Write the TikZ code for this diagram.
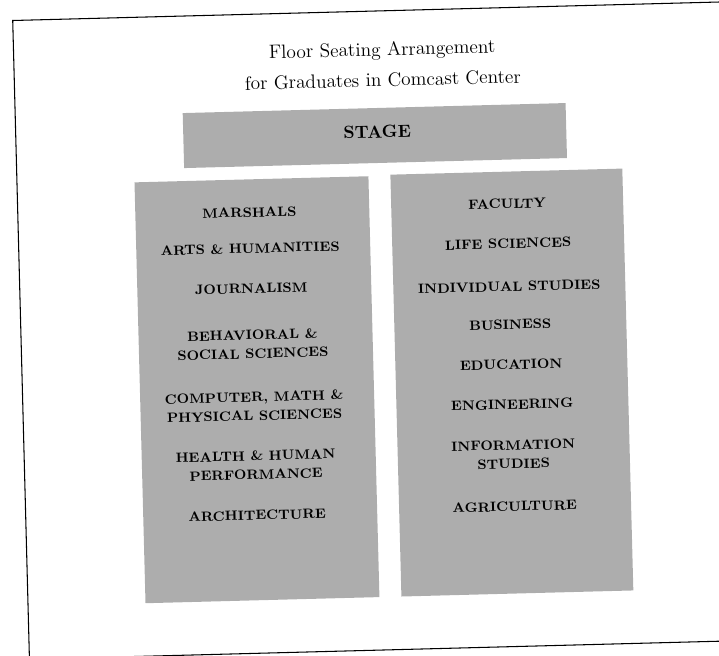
\documentclass[tikz,border=0pt]{standalone}
\usepackage{fontspec}
\usetikzlibrary{calc}

\begin{document}
\begin{tikzpicture}[
    area/.style={fill=black!32, inner sep=0pt},
    lbl/.style={font=\fontsize{7.7}{10.6}\selectfont\bfseries, align=center, inner sep=1pt},
    ttl/.style={font=\fontsize{11}{13}\selectfont, inner sep=1pt}]
\useasboundingbox (0,0) rectangle (14.38,-13.1);
\begin{scope}[rotate around={1.5:(7.6,-7.8)}, transform shape]
\draw[semithick] (14.9,-0.22) -- (0.45,-0.22) -- (0.45,-13.0) -- (14.9,-13.0);
\node[ttl] at (7.82,-1.02) (t1) {Floor Seating Arrangement};
\node[ttl] at ($(t1)+(0,-0.58)$) (t2) {for Graduates in Comcast Center};
\node[area, minimum width=7.66cm, minimum height=1.1cm] at (7.63,-2.71) (stage) {};
\node[font=\fontsize{10}{12}\selectfont\bfseries] at ($(stage)+(0.05,0.07)$) (s) {STAGE};
% left block
\node[area, minimum width=4.68cm, minimum height=8.42cm] at (5.14,-7.73) (lbox) {};
\node[lbl] at ($(lbox.north)+(-0.06,-0.67)$) (l1) {MARSHALS};
\node[lbl] at ($(l1)+(0,-0.72)$) (l2) {ARTS \& HUMANITIES};
\node[lbl] at ($(l2)+(0,-0.8)$) (l3) {JOURNALISM};
\node[lbl] at ($(l3)+(0,-1.12)$) (l4) {BEHAVIORAL \&\\SOCIAL SCIENCES};
\node[lbl] at ($(l4)+(0,-1.24)$) (l5) {COMPUTER, MATH \&\\PHYSICAL SCIENCES};
\node[lbl] at ($(l5)+(0,-1.18)$) (l6) {HEALTH \& HUMAN\\PERFORMANCE};
\node[lbl] at ($(l6)+(0,-1.0)$) (l7) {ARCHITECTURE};
% right block
\node[area, minimum width=4.64cm, minimum height=8.44cm] at (10.24,-7.72) (rbox) {};
\node[lbl] at ($(rbox.north)+(0,-0.65)$) (r1) {FACULTY};
\node[lbl] at ($(r1)+(0,-0.8)$) (r2) {LIFE SCIENCES};
\node[lbl] at ($(r2)+(0,-0.86)$) (r3) {INDIVIDUAL STUDIES};
\node[lbl] at ($(r3)+(0,-0.76)$) (r4) {BUSINESS};
\node[lbl] at ($(r4)+(0,-0.8)$) (r5) {EDUCATION};
\node[lbl] at ($(r5)+(0,-0.8)$) (r6) {ENGINEERING};
\node[lbl] at ($(r6)+(0,-1.0)$) (r7) {INFORMATION\\STUDIES};
\node[lbl] at ($(r7)+(0,-1.04)$) (r8) {AGRICULTURE};
\end{scope}
\end{tikzpicture}
\end{document}
